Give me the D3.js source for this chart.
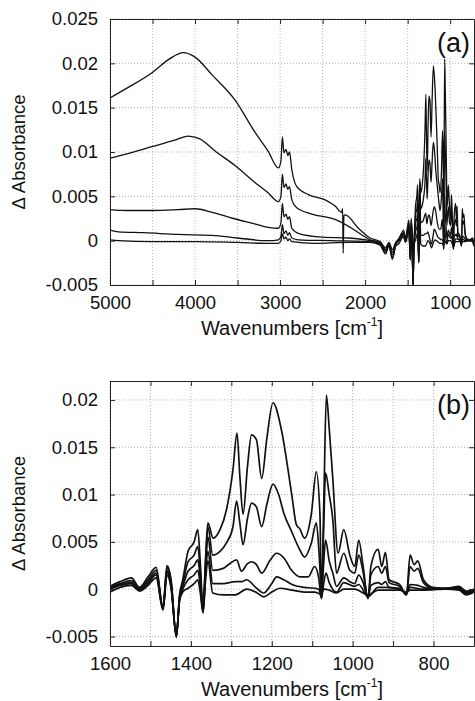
<!DOCTYPE html>
<html>
<head>
<meta charset="utf-8">
<script src="https://cdn.jsdelivr.net/npm/d3@7"></script>
<style>
  body { margin: 0; background: #fff; }
  svg { display: block; font-family: "Liberation Sans", Arial, sans-serif; }
</style>
</head>
<body>
<svg id="chart" width="475" height="701"></svg>
<script>
// [wavenumber, delta absorbance], high wavenumber part (panel a only)
const hi1 = [[5000,0.0161],[4800,0.0172],[4510,0.0189],[4300,0.0205],[4140,0.0212],[4000,0.0207],[3800,0.0187],[3533,0.0159],[3300,0.0123],[3141,0.0101],[3020,0.0082],[2990,0.0090],[2973,0.0117],[2955,0.0099],[2930,0.0103],[2910,0.0096],[2890,0.0100],[2862,0.0080],[2804,0.0061],[2667,0.0052],[2470,0.0046],[2353,0.0039],[2275,0.0032],[2265,0.0036],[2258,-0.0014],[2250,0.0028],[2235,0.0029],[2078,0.0014],[1941,0.0003],[1824,-0.0001],[1760,-0.0008],[1720,-0.0002],[1680,-0.0010],[1640,-0.0002]];
const hi2 = [[5000,0.0093],[4800,0.0098],[4510,0.0106],[4250,0.0113],[4080,0.0118],[3950,0.0115],[3750,0.0100],[3533,0.0085],[3300,0.0066],[3141,0.0054],[3020,0.0044],[2990,0.0050],[2973,0.0075],[2955,0.0060],[2930,0.0064],[2910,0.0058],[2890,0.0061],[2862,0.0046],[2804,0.0037],[2627,0.0030],[2353,0.0024],[2157,0.0014],[1941,0.0001],[1824,-0.0002],[1760,-0.0010],[1720,-0.0003],[1680,-0.0013],[1640,-0.0003]];
const hi3 = [[5000,0.0035],[4800,0.0034],[4500,0.0034],[4200,0.0035],[4000,0.0036],[3800,0.0032],[3550,0.0025],[3300,0.0019],[3141,0.0015],[3020,0.0014],[2990,0.0020],[2973,0.0042],[2955,0.0027],[2930,0.0030],[2910,0.0024],[2890,0.0027],[2862,0.0014],[2780,0.0008],[2500,0.0004],[2200,0.0003],[1941,0.0000],[1824,-0.0003],[1760,-0.0011],[1720,-0.0004],[1680,-0.0016],[1640,-0.0004]];
const hi4 = [[5000,0.0012],[4900,0.0010],[4600,0.0009],[4200,0.0007],[3800,0.0006],[3500,0.0003],[3141,0.0000],[3020,0.0001],[2990,0.0005],[2973,0.0018],[2955,0.0008],[2930,0.0011],[2910,0.0006],[2890,0.0009],[2862,0.0003],[2780,0.0001],[2400,0.0000],[1941,-0.0001],[1824,-0.0004],[1760,-0.0013],[1720,-0.0005],[1680,-0.0019],[1640,-0.0005]];
const hi5 = [[5000,0.0001],[4900,0.0000],[4500,-0.0001],[4000,-0.0001],[3500,-0.0002],[3141,-0.0003],[3020,-0.0003],[2990,0.0000],[2973,0.0008],[2955,0.0002],[2930,0.0004],[2910,0.0000],[2890,0.0002],[2862,-0.0001],[2600,-0.0003],[2200,-0.0002],[1941,-0.0002],[1824,-0.0005],[1760,-0.0015],[1720,-0.0006],[1680,-0.0021],[1640,-0.0006]];

// fingerprint region 1600-700 (panel b, and the right end of panel a)
const fp1 = [[1600,0.0003],[1575,0.0008],[1547,0.0012],[1527,0.0002],[1506,0.0013],[1486,0.0023],[1469,-0.0019],[1459,0.0025],[1449,0.0010],[1436,-0.0050],[1428,-0.0006],[1420,0.0010],[1407,0.0040],[1392,0.0050],[1383,0.0063],[1377,0.0030],[1370,-0.0022],[1364,0.0030],[1358,0.0070],[1345,0.0054],[1328,0.0063],[1312,0.0084],[1296,0.0126],[1286,0.0165],[1279,0.0120],[1271,0.0079],[1260,0.0130],[1250,0.0163],[1238,0.0158],[1225,0.0117],[1212,0.0160],[1197,0.0197],[1176,0.0168],[1151,0.0101],[1139,0.0068],[1131,0.0064],[1119,0.0054],[1102,0.0080],[1090,0.0124],[1081,0.0080],[1077,-0.0008],[1071,0.0100],[1065,0.0205],[1058,0.0170],[1049,0.0116],[1036,0.0038],[1022,0.0063],[1007,0.0036],[995,0.0024],[985,0.0052],[975,0.0027],[962,-0.0010],[955,0.0024],[937,0.0042],[928,0.0024],[919,0.0039],[910,0.0010],[884,0.0005],[867,-0.0006],[858,0.0036],[848,0.0026],[839,0.0030],[825,0.0010],[802,0.0002],[770,0.0001],[737,0.0003],[719,-0.0002],[700,0.0000]];
const fp2 = [[1600,0.0002],[1575,0.0006],[1547,0.0009],[1527,0.0001],[1506,0.0010],[1486,0.0020],[1469,-0.0020],[1459,0.0023],[1449,0.0008],[1436,-0.0051],[1428,-0.0008],[1420,0.0006],[1407,0.0029],[1392,0.0036],[1383,0.0045],[1377,0.0020],[1370,-0.0023],[1364,0.0025],[1358,0.0066],[1346,0.0036],[1328,0.0040],[1312,0.0049],[1296,0.0066],[1287,0.0093],[1279,0.0070],[1271,0.0047],[1260,0.0075],[1250,0.0091],[1238,0.0087],[1225,0.0066],[1212,0.0090],[1197,0.0111],[1183,0.0100],[1170,0.0080],[1151,0.0061],[1131,0.0042],[1119,0.0034],[1102,0.0049],[1090,0.0070],[1083,0.0038],[1077,-0.0005],[1072,0.0060],[1067,0.0123],[1058,0.0100],[1049,0.0073],[1040,0.0017],[1022,0.0038],[1007,0.0020],[995,0.0017],[985,0.0036],[975,0.0020],[962,-0.0009],[955,0.0015],[937,0.0024],[928,0.0017],[919,0.0024],[910,0.0007],[884,0.0003],[867,-0.0006],[858,0.0024],[848,0.0019],[839,0.0022],[825,0.0007],[802,0.0001],[770,0.0001],[737,0.0002],[719,-0.0003],[700,0.0000]];
const fp3 = [[1600,0.0001],[1575,0.0005],[1547,0.0007],[1527,0.0000],[1506,0.0008],[1486,0.0017],[1469,-0.0021],[1459,0.0020],[1449,0.0005],[1436,-0.0050],[1428,-0.0010],[1420,0.0003],[1407,0.0019],[1392,0.0025],[1383,0.0031],[1377,0.0012],[1370,-0.0024],[1364,0.0020],[1358,0.0055],[1346,0.0020],[1320,0.0022],[1304,0.0027],[1287,0.0031],[1275,0.0019],[1260,0.0027],[1250,0.0029],[1238,0.0026],[1225,0.0017],[1205,0.0030],[1188,0.0038],[1170,0.0033],[1151,0.0020],[1130,0.0013],[1110,0.0013],[1094,0.0024],[1084,0.0012],[1077,-0.0010],[1072,0.0025],[1067,0.0052],[1058,0.0030],[1049,0.0017],[1040,0.0003],[1022,0.0012],[1007,0.0008],[995,0.0006],[985,0.0015],[975,0.0008],[962,-0.0009],[955,0.0004],[937,0.0007],[928,0.0005],[919,0.0008],[910,0.0002],[884,0.0001],[867,-0.0005],[858,0.0005],[839,0.0004],[825,0.0002],[802,0.0000],[770,0.0001],[737,0.0001],[719,-0.0004],[700,-0.0001]];
const fp4 = [[1600,0.0000],[1575,0.0004],[1547,0.0006],[1527,-0.0001],[1506,0.0006],[1486,0.0015],[1469,-0.0021],[1459,0.0018],[1449,0.0003],[1436,-0.0049],[1428,-0.0011],[1420,0.0000],[1407,0.0010],[1392,0.0015],[1383,0.0020],[1377,0.0005],[1370,-0.0024],[1364,0.0015],[1358,0.0040],[1346,0.0006],[1320,0.0006],[1290,0.0008],[1275,0.0008],[1262,0.0010],[1240,0.0002],[1220,-0.0004],[1200,0.0006],[1188,0.0013],[1170,0.0010],[1150,0.0005],[1120,0.0002],[1094,0.0001],[1084,0.0000],[1077,-0.0009],[1072,0.0005],[1066,0.0017],[1058,0.0007],[1040,-0.0003],[1022,0.0007],[995,0.0003],[985,0.0005],[962,-0.0008],[937,0.0002],[919,0.0002],[884,0.0000],[867,-0.0004],[858,0.0002],[825,0.0000],[770,0.0000],[737,0.0000],[719,-0.0005],[700,-0.0002]];
const fp5 = [[1600,-0.0003],[1575,0.0002],[1547,0.0004],[1527,-0.0002],[1506,0.0004],[1486,0.0012],[1469,-0.0022],[1459,0.0015],[1449,0.0001],[1436,-0.0048],[1428,-0.0012],[1420,-0.0003],[1407,0.0001],[1392,0.0006],[1383,0.0010],[1377,-0.0003],[1370,-0.0025],[1364,0.0008],[1358,0.0030],[1346,-0.0004],[1320,-0.0006],[1290,-0.0006],[1262,0.0000],[1240,-0.0003],[1220,-0.0008],[1200,-0.0003],[1180,0.0001],[1150,-0.0001],[1120,-0.0003],[1094,-0.0003],[1080,-0.0005],[1070,0.0000],[1058,-0.0001],[1040,-0.0004],[1022,0.0000],[995,0.0000],[962,-0.0006],[937,-0.0001],[884,-0.0001],[867,-0.0003],[858,-0.0001],[825,-0.0001],[770,0.0000],[737,-0.0001],[719,-0.0006],[700,-0.0003]];

const ticksA_x = [5000,4500,4000,3500,3000,2500,2000,1500,1000];
const ticksA_y = [-0.005,0,0.005,0.01,0.015,0.02,0.025];
const ticksB_x = [1600,1500,1400,1300,1200,1100,1000,900,800];
const ticksB_y = [-0.005,0,0.005,0.01,0.015,0.02];

const svg = d3.select('#chart');
const font = '"Liberation Sans", Arial, sans-serif';

function panel(opts) {
    const { x, y, xt, yt, xLab, series, tag, id, lw } = opts;
    const [x0, x1] = x.range();
    const [y0, y1] = y.range(); // y0 bottom, y1 top
    const g = svg.append('g');

    g.append('clipPath').attr('id', id)
        .append('rect').attr('x', x0).attr('y', y1).attr('width', x1 - x0).attr('height', y0 - y1);

    // dotted grid
    g.append('g').selectAll('line').data(xt).join('line')
        .attr('x1', d => x(d)).attr('x2', d => x(d)).attr('y1', y1).attr('y2', y0)
        .attr('stroke', '#a0a0a0').attr('stroke-width', 0.8).attr('stroke-dasharray', '1,2');
    g.append('g').selectAll('line').data(yt).join('line')
        .attr('x1', x0).attr('x2', x1).attr('y1', d => y(d)).attr('y2', d => y(d))
        .attr('stroke', '#a0a0a0').attr('stroke-width', 0.8).attr('stroke-dasharray', '1,2');

    // panel tag with white backing, drawn under the spectra
    const tagG = g.append('g');
    const tagBg = tagG.append('rect').attr('fill', '#fff');
    const tx = tagG.append('text').attr('x', x1 - 4).attr('y', y1 + 33)
        .attr('text-anchor', 'end').attr('font-size', 27).attr('font-family', font).attr('fill', '#111')
        .text(tag);
    const bb = tx.node().getBBox();
    tagBg.attr('x', bb.x - 2).attr('y', bb.y + 2).attr('width', bb.width + 2).attr('height', bb.height - 4);

    // spectra
    const line = d3.line().x(d => x(d[0])).y(d => y(d[1])).curve(d3.curveMonotoneX);
    g.append('g').attr('clip-path', `url(#${id})`)
        .selectAll('path').data(series).join('path')
        .attr('d', line).attr('fill', 'none').attr('stroke', '#111')
        .attr('stroke-width', lw).attr('stroke-linejoin', 'round');

    // axes, ticks pointing inward
    g.append('g').attr('transform', `translate(0,${y0})`)
        .call(d3.axisBottom(x).tickValues(xt).tickSizeInner(-5).tickSizeOuter(0).tickPadding(11)
            .tickFormat(d => xLab(d) ? String(d) : ''));
    g.append('g').attr('transform', `translate(${x0},0)`)
        .call(d3.axisLeft(y).tickValues(yt).tickSizeInner(-5).tickSizeOuter(0).tickPadding(12)
            .tickFormat(d => String(+d.toFixed(3))));
    g.append('g').attr('transform', `translate(0,${y1})`)
        .call(d3.axisTop(x).tickValues(xt).tickSizeInner(-5).tickSizeOuter(0).tickFormat(''));
    g.append('g').attr('transform', `translate(${x1},0)`)
        .call(d3.axisRight(y).tickValues(yt).tickSizeInner(-5).tickSizeOuter(0).tickFormat(''));

    g.selectAll('.tick text').attr('font-size', 18.5).attr('font-family', font).attr('fill', '#111');
    g.selectAll('.domain').attr('stroke', '#222');
    g.selectAll('.tick line').attr('stroke', '#222');

    // axis titles
    const xl = g.append('text').attr('x', (x0 + x1) / 2).attr('y', y0 + 50)
        .attr('text-anchor', 'middle').attr('font-size', 20).attr('font-family', font).attr('fill', '#111');
    xl.append('tspan').text('Wavenumbers [cm');
    xl.append('tspan').attr('font-size', 12).attr('dy', -9).text('-1');
    xl.append('tspan').attr('dy', 9).text(']');

    g.append('text').attr('transform', `translate(25,${(y0 + y1) / 2}) rotate(-90)`)
        .attr('text-anchor', 'middle').attr('font-size', 18.5).attr('font-family', font).attr('fill', '#111')
        .text('\u0394 Absorbance');
}

const xA = d3.scaleLinear().domain([5000, 720]).range([110, 474]);
const yA = d3.scaleLinear().domain([-0.005, 0.025]).range([285, 19]);
const xB = d3.scaleLinear().domain([1600, 700]).range([110, 474]);
const yB = d3.scaleLinear().domain([-0.006, 0.022]).range([646, 381]);

panel({
    x: xA, y: yA, xt: ticksA_x, yt: ticksA_y, xLab: d => d % 1000 === 0,
    series: [hi1.concat(fp1), hi2.concat(fp2), hi3.concat(fp3), hi4.concat(fp4), hi5.concat(fp5)],
    tag: '(a)', id: 'clipA', lw: 1.3
});
panel({
    x: xB, y: yB, xt: ticksB_x, yt: ticksB_y, xLab: d => d % 200 === 0,
    series: [fp1, fp2, fp3, fp4, fp5],
    tag: '(b)', id: 'clipB', lw: 1.7
});
</script>
</body>
</html>
